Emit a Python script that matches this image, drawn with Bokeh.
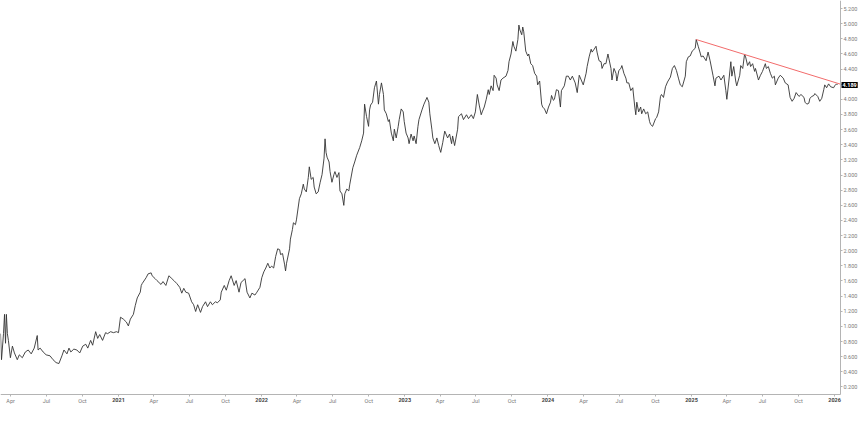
import datetime as dt
from bokeh.plotting import figure
from bokeh.models import (Range1d, MonthsTicker, CustomJSTickFormatter, DatetimeAxis, LinearAxis,
                          SingleIntervalTicker, NumeralTickFormatter, Label, ColumnDataSource)
from bokeh.embed import file_html
from bokeh.resources import INLINE

# time as decimal years, price values
t_year = [
    2020.178, 2020.185, 2020.199, 2020.206, 2020.213, 2020.219, 2020.226, 2020.233, 2020.247, 2020.261,
    2020.275, 2020.295, 2020.309, 2020.330, 2020.351, 2020.371, 2020.392, 2020.413, 2020.434, 2020.440,
    2020.454, 2020.475, 2020.496, 2020.523, 2020.544, 2020.565, 2020.585, 2020.606, 2020.620, 2020.641,
    2020.655, 2020.668, 2020.689, 2020.710, 2020.730, 2020.751, 2020.772, 2020.786, 2020.806, 2020.820,
    2020.841, 2020.855, 2020.869, 2020.889, 2020.910, 2020.924, 2020.945, 2020.965, 2020.986, 2021.000,
    2021.014, 2021.034, 2021.055, 2021.069, 2021.083, 2021.104, 2021.117, 2021.131, 2021.152, 2021.159,
    2021.166, 2021.193, 2021.207, 2021.228, 2021.235, 2021.256, 2021.269, 2021.297, 2021.311, 2021.331,
    2021.352, 2021.373, 2021.387, 2021.407, 2021.428, 2021.442, 2021.456, 2021.470, 2021.490, 2021.511,
    2021.525, 2021.539, 2021.553, 2021.573, 2021.587, 2021.608, 2021.622, 2021.642, 2021.656, 2021.677,
    2021.691, 2021.711, 2021.718, 2021.739, 2021.753, 2021.773, 2021.787, 2021.808, 2021.822, 2021.842,
    2021.856, 2021.870, 2021.884, 2021.898, 2021.918, 2021.932, 2021.953, 2021.967, 2021.988, 2022.001,
    2022.015, 2022.029, 2022.043, 2022.057, 2022.070, 2022.084, 2022.098, 2022.112, 2022.126, 2022.132,
    2022.146, 2022.160, 2022.167, 2022.174, 2022.195, 2022.201, 2022.215, 2022.222, 2022.236, 2022.243,
    2022.264, 2022.277, 2022.291, 2022.298, 2022.312, 2022.326, 2022.333, 2022.346, 2022.360, 2022.367,
    2022.381, 2022.395, 2022.409, 2022.422, 2022.436, 2022.443, 2022.450, 2022.457, 2022.471, 2022.478,
    2022.491, 2022.505, 2022.512, 2022.526, 2022.540, 2022.547, 2022.561, 2022.574, 2022.581, 2022.595,
    2022.609, 2022.616, 2022.637, 2022.650, 2022.664, 2022.685, 2022.699, 2022.712, 2022.719, 2022.733,
    2022.747, 2022.754, 2022.761, 2022.775, 2022.788, 2022.802, 2022.816, 2022.823, 2022.837, 2022.851,
    2022.857, 2022.871, 2022.885, 2022.892, 2022.906, 2022.920, 2022.927, 2022.940, 2022.954, 2022.961,
    2022.975, 2022.989, 2022.996, 2023.009, 2023.023, 2023.030, 2023.044, 2023.058, 2023.065, 2023.079,
    2023.092, 2023.099, 2023.120, 2023.134, 2023.155, 2023.168, 2023.175, 2023.189, 2023.196, 2023.210,
    2023.224, 2023.237, 2023.251, 2023.265, 2023.279, 2023.299, 2023.313, 2023.327, 2023.334, 2023.348,
    2023.369, 2023.375, 2023.396, 2023.410, 2023.431, 2023.445, 2023.465, 2023.479, 2023.493, 2023.507,
    2023.520, 2023.534, 2023.541, 2023.555, 2023.569, 2023.583, 2023.590, 2023.603, 2023.617, 2023.624,
    2023.638, 2023.645, 2023.659, 2023.672, 2023.686, 2023.707, 2023.721, 2023.728, 2023.742, 2023.755,
    2023.762, 2023.776, 2023.790, 2023.797, 2023.804, 2023.817, 2023.824, 2023.831, 2023.845, 2023.859,
    2023.866, 2023.880, 2023.893, 2023.907, 2023.921, 2023.928, 2023.942, 2023.956, 2023.963, 2023.976,
    2023.990, 2024.004, 2024.018, 2024.025, 2024.038, 2024.045, 2024.059, 2024.073, 2024.087, 2024.094,
    2024.114, 2024.128, 2024.142, 2024.156, 2024.170, 2024.190, 2024.204, 2024.218, 2024.232, 2024.246,
    2024.266, 2024.273, 2024.287, 2024.301, 2024.308, 2024.322, 2024.335, 2024.342, 2024.356, 2024.370,
    2024.377, 2024.391, 2024.404, 2024.418, 2024.425, 2024.439, 2024.446, 2024.460, 2024.474, 2024.480,
    2024.494, 2024.508, 2024.515, 2024.529, 2024.543, 2024.550, 2024.563, 2024.577, 2024.591, 2024.605,
    2024.612, 2024.619, 2024.632, 2024.646, 2024.653, 2024.667, 2024.681, 2024.695, 2024.708, 2024.715,
    2024.729, 2024.750, 2024.757, 2024.771, 2024.784, 2024.791, 2024.805, 2024.819, 2024.833, 2024.853,
    2024.867, 2024.881, 2024.895, 2024.909, 2024.922, 2024.936, 2024.957, 2024.964, 2024.978, 2024.991,
    2025.005, 2025.026, 2025.033, 2025.047, 2025.061, 2025.068, 2025.081, 2025.102, 2025.116, 2025.130,
    2025.150, 2025.164, 2025.171, 2025.192, 2025.206, 2025.226, 2025.240, 2025.247, 2025.261, 2025.275,
    2025.282, 2025.295, 2025.309, 2025.316, 2025.337, 2025.344, 2025.358, 2025.371, 2025.378, 2025.392,
    2025.406, 2025.413, 2025.427, 2025.441, 2025.447, 2025.468, 2025.482, 2025.496, 2025.516, 2025.523,
    2025.537, 2025.551, 2025.565, 2025.579, 2025.586, 2025.606, 2025.620, 2025.641, 2025.655, 2025.675,
    2025.689, 2025.703, 2025.717, 2025.731, 2025.751, 2025.765, 2025.786, 2025.793, 2025.806, 2025.820,
    2025.827, 2025.841, 2025.855, 2025.862, 2025.882, 2025.896, 2025.910, 2025.924, 2025.931, 2025.944,
    2025.958, 2025.972, 2025.993, 2026.000, 2026.013, 2026.020,
]
price = [
    0.904, 0.560, 0.904, 1.159, 0.777, 1.159, 0.904, 0.815, 0.586, 0.739,
    0.649, 0.560, 0.624, 0.586, 0.662, 0.688, 0.637, 0.713, 0.879, 0.688,
    0.713, 0.662, 0.624, 0.611, 0.560, 0.522, 0.509, 0.611, 0.688, 0.637,
    0.713, 0.662, 0.700, 0.688, 0.649, 0.739, 0.764, 0.713, 0.815, 0.751,
    0.930, 0.841, 0.892, 0.815, 0.917, 0.904, 0.930, 0.917, 0.930, 0.917,
    1.121, 1.096, 1.057, 1.006, 1.096, 1.159, 1.274, 1.376, 1.452, 1.541,
    1.567, 1.643, 1.694, 1.707, 1.669, 1.631, 1.605, 1.554, 1.592, 1.541,
    1.669, 1.631, 1.605, 1.567, 1.516, 1.439, 1.503, 1.452, 1.439, 1.325,
    1.286, 1.197, 1.286, 1.185, 1.261, 1.325, 1.261, 1.325, 1.286, 1.325,
    1.312, 1.350, 1.452, 1.541, 1.478, 1.605, 1.669, 1.541, 1.605, 1.452,
    1.580, 1.605, 1.631, 1.452, 1.376, 1.439, 1.414, 1.452, 1.516, 1.643,
    1.720, 1.771, 1.834, 1.771, 1.796, 1.771, 1.924, 2.025, 2.013, 1.949,
    1.962, 1.822, 1.733, 1.834, 2.025, 2.153, 2.280, 2.369, 2.344, 2.407,
    2.688, 2.751, 2.879, 2.815, 2.777, 2.968, 3.108, 2.943, 2.968, 2.841,
    2.751, 2.777, 2.904, 3.006, 3.223, 3.478, 3.299, 3.236, 3.172, 3.045,
    2.904, 3.006, 3.045, 2.968, 3.032, 2.790, 2.751, 2.599, 2.751, 2.815,
    2.790, 2.879, 3.096, 3.172, 3.261, 3.363, 3.452, 3.554, 3.936, 3.771,
    3.643, 3.860, 3.924, 3.962, 4.153, 4.242, 3.936, 4.064, 4.217, 4.064,
    3.860, 3.809, 3.707, 3.732, 3.554, 3.452, 3.605, 3.490, 3.643, 3.732,
    3.873, 3.834, 3.707, 3.554, 3.490, 3.414, 3.541, 3.452, 3.516, 3.414,
    3.643, 3.732, 3.860, 3.936, 4.025, 3.962, 3.809, 3.605, 3.490, 3.414,
    3.490, 3.389, 3.299, 3.427, 3.580, 3.490, 3.541, 3.414, 3.516, 3.389,
    3.605, 3.771, 3.809, 3.732, 3.796, 3.745, 3.796, 3.745, 3.834, 4.064,
    3.924, 3.796, 3.834, 3.898, 4.000, 4.127, 4.064, 4.178, 4.115, 4.318,
    4.280, 4.191, 4.115, 4.255, 4.280, 4.306, 4.382, 4.497, 4.599, 4.764,
    4.701, 4.637, 4.790, 4.981, 4.917, 4.853, 4.955, 4.892, 4.637, 4.573,
    4.599, 4.471, 4.446, 4.344, 4.306, 4.191, 4.242, 3.936, 3.898, 3.873,
    3.809, 3.898, 3.962, 4.051, 3.987, 4.000, 4.127, 4.115, 3.898, 4.115,
    4.178, 4.306, 4.306, 4.255, 4.306, 4.217, 4.089, 4.318, 4.255, 4.191,
    4.344, 4.433, 4.561, 4.662, 4.624, 4.662, 4.701, 4.624, 4.510, 4.497,
    4.408, 4.471, 4.471, 4.599, 4.535, 4.408, 4.255, 4.408, 4.344, 4.242,
    4.382, 4.408, 4.446, 4.344, 4.280, 4.217, 4.217, 4.115, 4.153, 3.898,
    3.796, 3.962, 3.834, 3.898, 3.809, 3.873, 3.809, 3.834, 3.707, 3.669,
    3.643, 3.745, 3.758, 3.834, 4.038, 4.064, 4.025, 4.166, 4.229, 4.293,
    4.408, 4.446, 4.382, 4.280, 4.191, 4.166, 4.306, 4.497, 4.561, 4.573,
    4.637, 4.675, 4.790, 4.701, 4.611, 4.561, 4.573, 4.510, 4.624, 4.510,
    4.318, 4.178, 4.280, 4.306, 4.255, 4.318, 4.115, 4.000, 4.242, 4.497,
    4.306, 4.433, 4.242, 4.178, 4.318, 4.446, 4.408, 4.599, 4.561, 4.446,
    4.497, 4.433, 4.471, 4.369, 4.408, 4.255, 4.318, 4.369, 4.471, 4.408,
    4.433, 4.344, 4.280, 4.306, 4.191, 4.280, 4.318, 4.280, 4.217, 4.191,
    4.025, 3.974, 4.013, 4.089, 4.038, 4.064, 4.025, 3.962, 3.936, 3.949,
    4.013, 4.038, 4.051, 4.076, 4.038, 3.974, 4.013, 4.127, 4.191, 4.153,
    4.204, 4.166, 4.153, 4.178, 4.204, 4.189,
]

# descending trend line (from the Jan 2025 high to the price-scale edge)
trend_t = [2025.033, 2026.041]
trend_v = [4.790, 4.200]

last_price = 4.189
month_labels = ["Jan", "Feb", "Mar", "Apr", "May", "Jun",
                "Jul", "Aug", "Sep", "Oct", "Nov", "Dec"]

# view window (decimal years / price units)
x_start_year, x_scale_year, x_end_year = 2020.178, 2026.041, 2026.1737
y_bottom, y_axis_base, y_top = -0.0585, 0.10, 5.3057


def to_dt(t):
    y = int(t)
    a = dt.datetime(y, 1, 1)
    b = dt.datetime(y + 1, 1, 1)
    return a + (b - a) * (t - y)


def to_ms(d):
    return (d - dt.datetime(1970, 1, 1)).total_seconds() * 1000.0


src = ColumnDataSource(dict(t=[to_dt(v) for v in t_year], v=price))
trend_src = ColumnDataSource(dict(t=[to_dt(v) for v in trend_t], v=trend_v))

scale_x_ms = to_ms(to_dt(x_scale_year))

p = figure(width=859, height=406, x_axis_type="datetime",
           x_axis_location=None, y_axis_location=None,
           x_range=Range1d(to_dt(x_start_year), to_dt(x_end_year)),
           y_range=Range1d(y_bottom, y_top),
           output_backend="svg", toolbar_location=None,
           min_border_left=0, min_border_top=0, min_border_bottom=0, min_border_right=0)

p.background_fill_color = "white"
p.border_fill_color = "white"
p.outline_line_color = None
p.grid.visible = False

p.line(x="t", y="v", source=src, line_color="#333333", line_width=0.9)
p.line(x="t", y="v", source=trend_src, line_color="#f26b6b", line_width=1)

FONT = "Roboto"
AXIS_COL = "#b4b4b4"


def style(ax, color, bold=False):
    ax.axis_line_color = AXIS_COL
    ax.major_tick_line_color = AXIS_COL
    ax.minor_tick_line_color = None
    ax.major_tick_in = 0
    ax.major_label_text_font = FONT
    ax.major_label_text_font_size = "5.5px"
    ax.major_label_text_color = color
    if bold:
        ax.major_label_text_font_style = "bold"


# price scale on the right (line stops at the time axis)
yax = LinearAxis(fixed_location=scale_x_ms, bounds=(y_axis_base, y_top),
                 ticker=SingleIntervalTicker(interval=0.2, num_minor_ticks=0),
                 formatter=NumeralTickFormatter(format="0.000"))
style(yax, "#7a7a7a")
yax.major_tick_out = 2
yax.major_label_standoff = 1
p.add_layout(yax, "right")

# time scale: months (regular) and years (bold), sharing one line
x_bounds = (to_dt(x_start_year), to_dt(x_scale_year))
xax_m = DatetimeAxis(fixed_location=y_axis_base, bounds=x_bounds,
                     ticker=MonthsTicker(months=[3, 6, 9]),
                     formatter=CustomJSTickFormatter(args=dict(names=month_labels), code="""
    return names[new Date(tick).getUTCMonth()];
"""))
style(xax_m, "#7a7a7a")
xax_m.major_tick_out = 2
xax_m.major_label_standoff = 1
p.add_layout(xax_m, "below")

xax_y = DatetimeAxis(fixed_location=y_axis_base, bounds=x_bounds,
                     ticker=MonthsTicker(months=[0]),
                     formatter=CustomJSTickFormatter(code="""
    return String(new Date(tick).getUTCFullYear());
"""))
style(xax_y, "#444444", bold=True)
xax_y.axis_line_color = None
xax_y.major_tick_out = 2
xax_y.major_label_standoff = 1
p.add_layout(xax_y, "below")

# last-price tag on the price scale
p.add_layout(Label(x=scale_x_ms, y=last_price, text=f"{last_price:.3f}",
                   x_offset=1, text_align="left", text_baseline="middle",
                   text_font=FONT, text_font_size="5.5px", text_font_style="bold",
                   text_color="white", background_fill_color="black", padding=1))

open("out.html", "w").write(file_html(p, INLINE))
